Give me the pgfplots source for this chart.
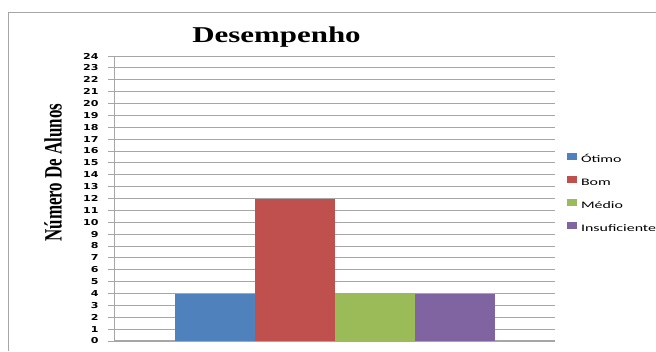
\documentclass[border=0pt]{standalone}
\usepackage{pgfplots}
\pgfplotsset{compat=1.18}
\usepackage{fontspec}
\setmainfont{Liberation Serif}
\newfontfamily\titlefont{Liberation Serif}
\newfontfamily\tickfont{DejaVu Sans}
\newfontfamily\legfont{Carlito}
\definecolor{cblue}{HTML}{4F81BD}
\definecolor{cred}{HTML}{C0504D}
\definecolor{cgreen}{HTML}{9BBB59}
\definecolor{cpurple}{HTML}{8064A2}
\definecolor{gridgray}{HTML}{A6A6A6}
\begin{document}
\begin{tikzpicture}[x=1bp,y=1bp]
\path[use as bounding box, fill=white] (0,0) rectangle (656,351);
\draw[gray!70, line width=0.8bp] (8,0) -- (8,339) -- (656,339);
\begin{axis}[
  at={(114bp,10bp)}, anchor=south west,
  scale only axis, width=441bp, height=285bp,
  xmin=-0.259, xmax=5.254, ymin=0, ymax=24,
  xtick=\empty,
  ytick={0,1,...,24},
  /pgf/number format/assume math mode=true,
  yticklabel style={font=\tickfont\bfseries\fontsize{8.2}{9}\selectfont, xshift=-6bp},
  yticklabel={\scalebox{1.35}[1]{\pgfmathprintnumber{\tick}}},
  tick align=outside, major tick length=6bp,
  tick style={gridgray, line width=0.8bp},
  ymajorgrids, grid style={gridgray, line width=0.8bp},
  axis x line*=bottom, axis y line*=left,
  x axis line style={-, gridgray, line width=2bp},
  y axis line style={-, gridgray, line width=0.8bp},
  title={\titlefont\bfseries\fontsize{22.7}{24}\selectfont\scalebox{1.367}[1]{Desempenho}},
  title style={at={(axis description cs:0.3685,1.028)}, anchor=base, inner sep=0pt},
  ylabel={\scalebox{0.945}[1.39]{\titlefont\bfseries\fontsize{18}{18}\selectfont Número De Alunos}},
  ylabel style={at={(axis description cs:-0.119,0.591)}, anchor=base, inner sep=0pt},
  legend style={draw=none, fill=none, inner sep=0pt, outer sep=0pt,
    at={(axis description cs:1.0272,0.658)}, anchor=north west,
    row sep=12.9bp, column sep=4bp,
    nodes={inner sep=0pt, text height=6.5bp, text depth=0.5bp},
    font=\legfont\fontsize{10}{10}\selectfont},
  legend cell align=left,
  legend image code/.code={\fill[#1] (0bp,-0.5bp) rectangle (10bp,6.5bp);},
]
\addplot[ybar, bar width=1, bar shift=0pt, fill=cblue, draw=none] coordinates {(1,4)};
\addlegendentry{\scalebox{1.6}[1]{Ótimo}}
\addplot[ybar, bar width=1, bar shift=0pt, fill=cred, draw=none] coordinates {(2,12)};
\addlegendentry{\scalebox{1.6}[1]{Bom}}
\addplot[ybar, bar width=1, bar shift=0pt, fill=cgreen, draw=none] coordinates {(3,4)};
\addlegendentry{\scalebox{1.6}[1]{Médio}}
\addplot[ybar, bar width=1, bar shift=0pt, fill=cpurple, draw=none] coordinates {(4,4)};
\addlegendentry{\scalebox{1.6}[1]{Insuficiente}}
\end{axis}
\end{tikzpicture}
\end{document}
